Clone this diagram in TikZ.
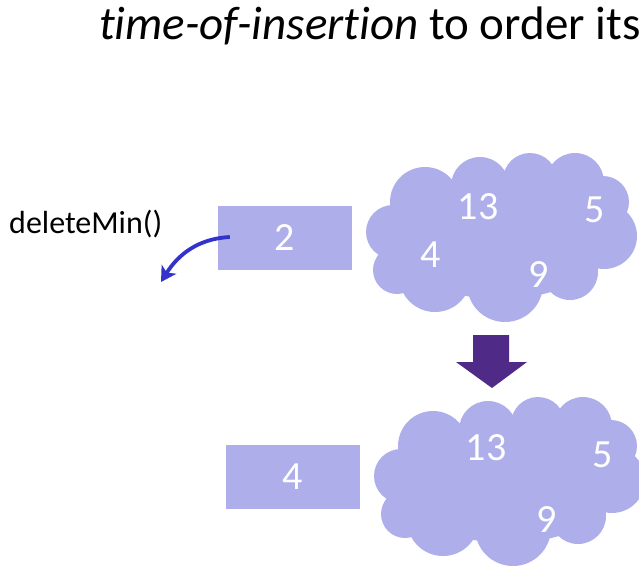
\documentclass[tikz,border=0pt]{standalone}
\usepackage{fontspec}
\setmainfont{Carlito}[Ligatures=NoCommon]
\usetikzlibrary{arrows.meta}
\definecolor{lav}{HTML}{AEAEEB}
\definecolor{deeppurple}{HTML}{4F2A87}
\definecolor{arrowblue}{HTML}{3333CC}
\tikzset{
  valbox/.style={fill=lav, draw=none, minimum width=134pt, minimum height=64pt,
    inner sep=0pt, text=white, font=\fontsize{40}{40}\selectfont},
  cloudnum/.style={text=white, inner sep=0pt, font=\fontsize{40}{40}\selectfont},
  lbl/.style={inner sep=0pt, text=black},
  puff/.style={fill=lav, draw=none}
}
% a cloud built from overlapping puffs, in pixel-like units
\newcommand{\puffcloud}{%
  \fill[puff] (500,237) ellipse[x radius=110, y radius=62];
  \fill[puff] (393,232) circle[radius=27];
  \fill[puff] (397,270) circle[radius=24];
  \fill[puff] (425,202) circle[radius=35];
  \fill[puff] (480,186) circle[radius=29];
  \fill[puff] (530,180) circle[radius=27];
  \fill[puff] (575,182) circle[radius=29];
  \fill[puff] (603,202) circle[radius=26];
  \fill[puff] (604,236) circle[radius=33];
  \fill[puff] (570,272) circle[radius=28];
  \fill[puff] (505,284) circle[radius=38];
  \fill[puff] (435,276) circle[radius=36];
}
\begin{document}
\begin{tikzpicture}[x=1pt,y=-1pt]
  \useasboundingbox (0,0) rectangle (639,565);
  \clip (0,0) rectangle (639,565);

  % heading line
  \node[lbl, anchor=base west, font=\fontsize{47}{47}\selectfont] (title) at (99,39)
    {\textit{time-of-insertion} to order its};

  % before deleteMin()
  \puffcloud
  \node[valbox] (min1) at (285,238) {2};
  \node[cloudnum] (a13) at (478,207) {13};
  \node[cloudnum] (a5) at (595,210) {5};
  \node[cloudnum] (a4) at (431,255) {4};
  \node[cloudnum] (a9) at (539,275) {9};

  \node[lbl, anchor=base west, font=\fontsize{32}{32}\selectfont] (op) at (9,233) {deleteMin()};
  \coordinate (out) at (161,282);
  \draw[arrowblue, line width=3.8pt,
        -{Stealth[length=15pt, width=17pt, inset=4pt]}]
    ([xshift=12pt,yshift=1pt]min1.west) to[out=183, in=58] (out);

  % transition arrow
  \fill[deeppurple] (473,335) -- (509,335) -- (509,362) -- (527,362)
    -- (492,388) -- (456,362) -- (473,362) -- cycle;

  % after deleteMin()
  \begin{scope}[shift={(8,244)}]
    \puffcloud
  \end{scope}
  \node[valbox] (min2) at (292.5,476.5) {4};
  \node[cloudnum] (b13) at (486,448) {13};
  \node[cloudnum] (b5) at (603,455) {5};
  \node[cloudnum] (b9) at (547,520) {9};
\end{tikzpicture}
\end{document}
